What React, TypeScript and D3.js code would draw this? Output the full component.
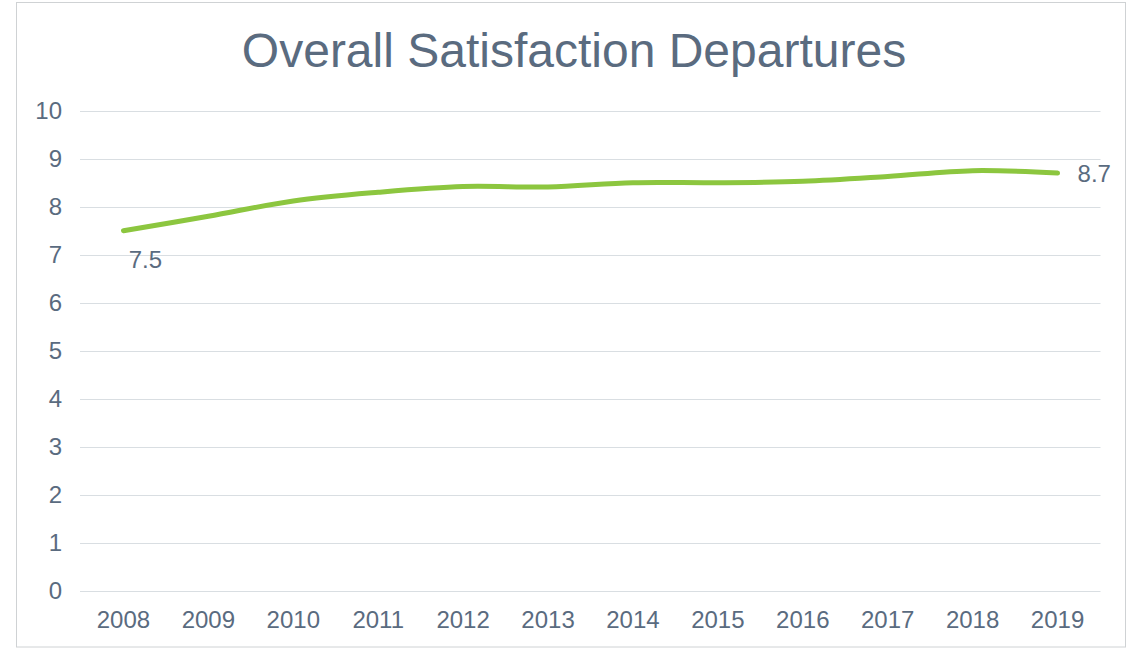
import React from "react";
import * as d3 from "d3";

const years = ["2008","2009","2010","2011","2012","2013","2014","2015","2016","2017","2018","2019"];
const values = [7.5, 7.8, 8.12, 8.3, 8.42, 8.41, 8.5, 8.5, 8.53, 8.63, 8.75, 8.7];
const yTicks = [0,1,2,3,4,5,6,7,8,9,10];
const title = "Overall Satisfaction Departures";

const W = 1127, H = 649;
const TEXT = "#5a6b7f";
const FONT = "'Liberation Sans', Arial, sans-serif";

export default function App() {
  const x = d3.scalePoint<string>().domain(years).range([81, 1100]).padding(0.5);
  const y = d3.scaleLinear().domain([0, 10]).range([590.7, 110.7]);
  const line = d3.line<number>()
    .x((_, i) => x(years[i]) as number)
    .y(d => y(d))
    .curve(d3.curveCatmullRom.alpha(0.5));
  const last = values.length - 1;
  return (
    <div style={{ position: "fixed", left: 0, top: 0 }}>
      <svg width={W} height={H} style={{ display: "block", background: "#fff" }}>
        <rect x={16.5} y={2.5} width={1109} height={644.5} fill="#fff" stroke="#cfd2d4" strokeWidth={1} />
        <text x={574} y={67} textAnchor="middle" fontFamily={FONT} fontSize={48} fill={TEXT}>{title}</text>
        {yTicks.map(t => (
          <g key={t}>
            <line x1={80} x2={1100.5} y1={Math.round(y(t)) + 0.5} y2={Math.round(y(t)) + 0.5} stroke="#d9dee2" strokeWidth={1} />
            <text x={62} y={y(t)} dy="0.35em" textAnchor="end" fontFamily={FONT} fontSize={24} fill={TEXT}>{t}</text>
          </g>
        ))}
        {years.map(yr => (
          <text key={yr} x={x(yr)} y={628} textAnchor="middle" fontFamily={FONT} fontSize={24} fill={TEXT}>{yr}</text>
        ))}
        <path d={line(values) || ""} fill="none" stroke="#8cc63f" strokeWidth={5} strokeLinecap="round" strokeLinejoin="round" />
        <text x={(x(years[0]) as number) + 22} y={y(values[0]) + 37} textAnchor="middle" fontFamily={FONT} fontSize={24} fill={TEXT}>{values[0].toFixed(1)}</text>
        <text x={(x(years[last]) as number) + 20} y={y(values[last]) + 9} textAnchor="start" fontFamily={FONT} fontSize={24} fill={TEXT}>{values[last].toFixed(1)}</text>
      </svg>
    </div>
  );
}
